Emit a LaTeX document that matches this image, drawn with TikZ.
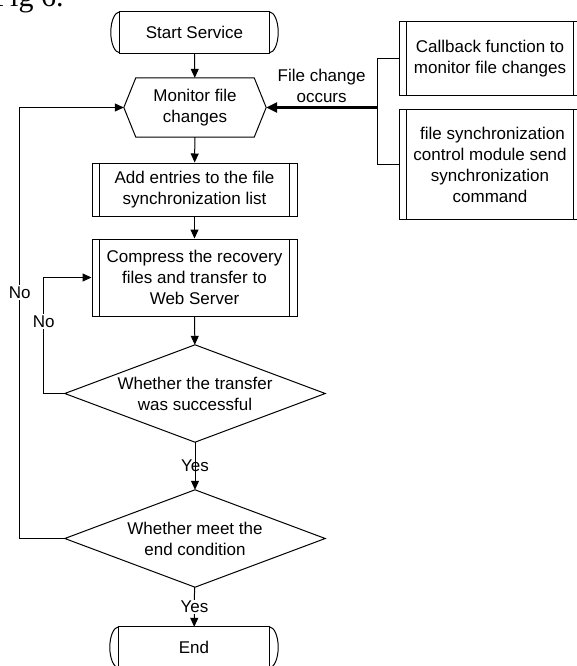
\documentclass[tikz,border=0pt]{standalone}
\usepackage{fontspec}
\setmainfont{Liberation Sans}
\newfontfamily\figfont{Liberation Serif}
\usetikzlibrary{arrows.meta,calc}

\begin{document}
\begin{tikzpicture}[x=1pt,y=1pt,
		txt/.style={font=\fontsize{17}{21}\selectfont,align=center,inner sep=0pt},
		wire/.style={line width=1pt},
		flow/.style={wire,-{Triangle[length=9pt,width=8pt]}},
		bigflow/.style={line width=2.5pt,-{Triangle[length=11pt,width=10pt]}},
		lbl/.style={txt,fill=white,inner sep=1.5pt}]
			\useasboundingbox (0,0) rectangle (577,-666);
			
			\node[anchor=base west,font=\figfont\fontsize{30}{30}\selectfont] (fig) at (-10,-7) {Fig 6.};
			
			%%% main column
			\node[txt,minimum width=149,minimum height=41] (start) at (194.5,-32.5) {Start Service};
			\node[txt,minimum width=142,minimum height=59] (monitor) at (195,-107.5) {Monitor file\\changes};
			\node[txt,draw,line width=1pt,minimum width=205,minimum height=53] (add) at (194.5,-189.5) {Add entries to the file\\synchronization list};
			\node[txt,draw,line width=1pt,minimum width=205,minimum height=77] (compress) at (194.5,-277.5) {Compress the recovery\\files and transfer to\\Web Server};
			\node[txt,minimum width=260,minimum height=97] (d1) at (195,-393.5) {Whether the transfer\\was successful};
			\node[txt,minimum width=260,minimum height=97] (d2) at (195,-538.5) {Whether meet the\\end condition};
			\node[txt,minimum width=150,minimum height=41] (end) at (194,-647.5) {End};
			
			%%% side boxes
			\node[txt,draw,line width=1pt,minimum width=182,minimum height=74] (cb) at (490,-59) {Callback function to\\monitor file changes};
			\node[txt,draw,line width=1pt,minimum width=182,minimum height=109] (sync) at (490,-164.5) {\hspace{5pt}file synchronization\\control module send\\synchronization\\command};
			
			%%% shapes
			\foreach \n in {start,end}{
				\draw[wire] (\n.north west) rectangle (\n.south east);
				\draw[wire] (\n.north west) arc[start angle=90,end angle=270,x radius=9pt,y radius=20.5pt];
				\draw[wire] (\n.north east) arc[start angle=90,end angle=-90,x radius=9pt,y radius=20.5pt];
			}
			\foreach \n in {add,compress,cb,sync}{
				\draw[wire] ([xshift=8pt]\n.north west) -- ([xshift=8pt]\n.south west);
				\draw[wire] ([xshift=-8pt]\n.north east) -- ([xshift=-8pt]\n.south east);
			}
			\draw[wire] ([xshift=12pt]monitor.north west) -- ([xshift=-12pt]monitor.north east) -- (monitor.east)
				-- ([xshift=-12pt]monitor.south east) -- ([xshift=12pt]monitor.south west) -- (monitor.west) -- cycle;
			\foreach \d in {d1,d2}
				\draw[wire] (\d.north) -- (\d.east) -- (\d.south) -- (\d.west) -- cycle;
			
			%%% arrows
			\draw[flow] (start) -- (monitor);
			\draw[flow] (monitor) -- (add);
			\draw[flow] (add) -- (compress);
			\draw[flow] (compress) -- (d1);
			\draw[flow] (d1) -- node[txt] {Yes} (d2);
			\draw[flow] (d2) -- node[lbl] {Yes} (end);
			
			\draw[flow] (d1.west) -- ++(-21,0) |- node[lbl,pos=0.31] {No} (compress.west);
			\draw[flow] (d2.west) -- ++(-45,0) |- node[lbl,pos=0.285] {No} (monitor.west);
			
			%%% file change
			\coordinate (join) at (377,-107.5);
			\draw[wire] (cb.west) -| (join);
			\draw[wire] (sync.west) -| (join);
			\draw[bigflow] (join) -- node[txt,above=4pt] {File change\\occurs} (monitor.east);
			
		\end{tikzpicture}
\end{document}
